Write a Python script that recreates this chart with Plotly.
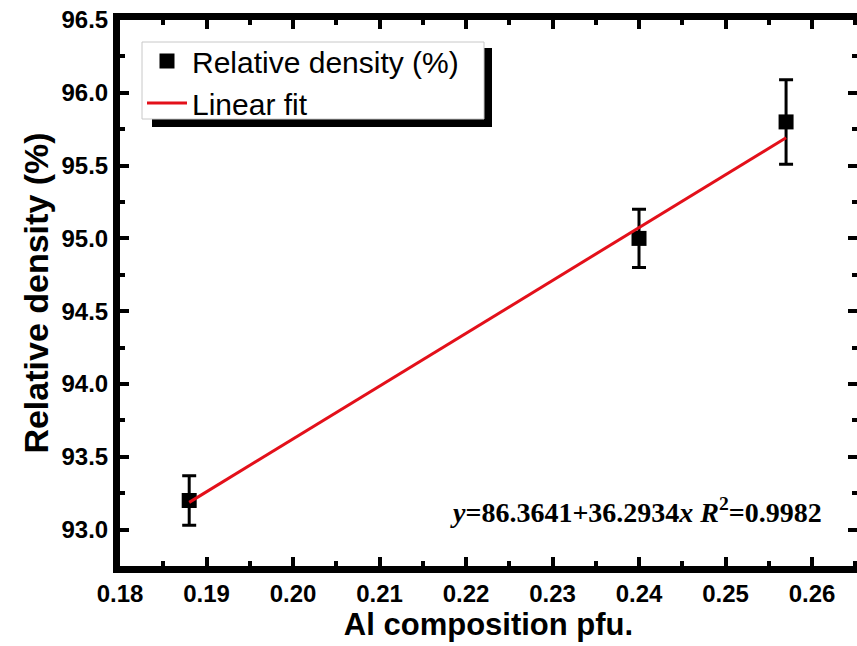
import plotly.graph_objects as go

# data
al_x = [0.188, 0.240, 0.257]
density = [93.20, 95.00, 95.80]
density_err = [0.17, 0.20, 0.29]
fit_x = [0.188, 0.257]
fit_y = [93.187, 95.691]
x_ticks = [0.18, 0.19, 0.20, 0.21, 0.22, 0.23, 0.24, 0.25, 0.26]
y_ticks = [93.0, 93.5, 94.0, 94.5, 95.0, 95.5, 96.0, 96.5]

W, H = 857, 646
L, R, T, B = 120, 0, 20, 80
PW, PH = W - L - R, H - T - B
xr = [0.18, 0.2652]
yr = [92.75, 96.5]


def px(x):
    return (x - L) / PW


def py(y):
    return (H - B - y) / PH


fig = go.Figure()
fig.add_trace(go.Scatter(
    x=al_x, y=density, mode="markers", name="Relative density (%)",
    marker=dict(symbol="square", size=15, color="black"),
    error_y=dict(type="data", array=density_err, visible=True,
                 color="black", thickness=3, width=7),
))
fig.add_trace(go.Scatter(
    x=fit_x, y=fit_y, mode="lines", name="Linear fit",
    line=dict(color="#e3101a", width=3),
))
fig.add_trace(go.Scatter(x=[None], y=[None], yaxis="y2", showlegend=False,
                         hoverinfo="skip"))

tickfont = dict(family="Liberation Sans, Arial", size=24, color="black")
fig.update_layout(
    width=W, height=H,
    margin=dict(l=L, r=R, t=T, b=B),
    paper_bgcolor="white", plot_bgcolor="white",
    showlegend=True,
    legend=dict(x=px(142), y=py(35), xanchor="left", yanchor="top",
                bgcolor="rgba(0,0,0,0)", borderwidth=0,
                font=dict(family="Liberation Sans, Arial", size=30, color="black"),
                tracegroupgap=0, itemwidth=40),
    xaxis=dict(
        range=xr, tickvals=x_ticks, ticktext=[f"<b>{v:.2f}</b>" for v in x_ticks],
        showgrid=False, zeroline=False,
        showline=True, linewidth=7, linecolor="black", mirror="ticks",
        ticks="inside", ticklen=9, tickwidth=4, tickcolor="black",
        minor=dict(dtick=0.005, tick0=0.18, ticks="inside", ticklen=5,
                   tickwidth=4, tickcolor="black", showgrid=False),
        tickfont=tickfont,
        title=dict(text="<b>Al composition pfu.</b>", standoff=0,
                   font=dict(family="Liberation Sans, Arial", size=31, color="black")),
    ),
    yaxis=dict(
        range=yr, tickvals=y_ticks, ticktext=[f"<b>{v:.1f}</b>" for v in y_ticks],
        showgrid=False, zeroline=False,
        showline=True, linewidth=7, linecolor="black", mirror=False,
        ticks="inside", ticklen=9, tickwidth=4, tickcolor="black",
        minor=dict(dtick=0.25, tick0=93.0, ticks="inside", ticklen=5,
                   tickwidth=4, tickcolor="black", showgrid=False),
        tickfont=tickfont,
        title=dict(text="<b>Relative density (%)</b>", standoff=5,
                   font=dict(family="Liberation Sans, Arial", size=34, color="black")),
    ),
    yaxis2=dict(
        range=yr, overlaying="y", side="right", anchor="x",
        tickvals=y_ticks, showticklabels=False, showgrid=False, zeroline=False,
        showline=False, ticks="inside", ticklen=9, tickwidth=4, tickcolor="black",
        minor=dict(dtick=0.25, tick0=93.0, ticks="inside", ticklen=5,
                   tickwidth=4, tickcolor="black", showgrid=False),
    ),
    shapes=[
        dict(type="rect", xref="paper", yref="paper", layer="above",
             x0=px(152), x1=px(492), y0=py(127), y1=py(48),
             fillcolor="black", line=dict(width=0)),
        dict(type="rect", xref="paper", yref="paper", layer="above",
             x0=px(142), x1=px(484), y0=py(119), y1=py(42),
             fillcolor="white", line=dict(width=1, color="#c8c8c8")),
    ],
    annotations=[dict(
        xref="paper", yref="paper",
        x=px(636), y=py(510),
        text="<b><i>y</i>=86.3641+36.2934<i>x</i> <i>R</i><sup>2</sup>=0.9982</b>",
        showarrow=False, xanchor="center", yanchor="middle",
        font=dict(family="Liberation Serif, Times New Roman", size=28, color="black"),
    )],
)

fig.write_html("out.html")
